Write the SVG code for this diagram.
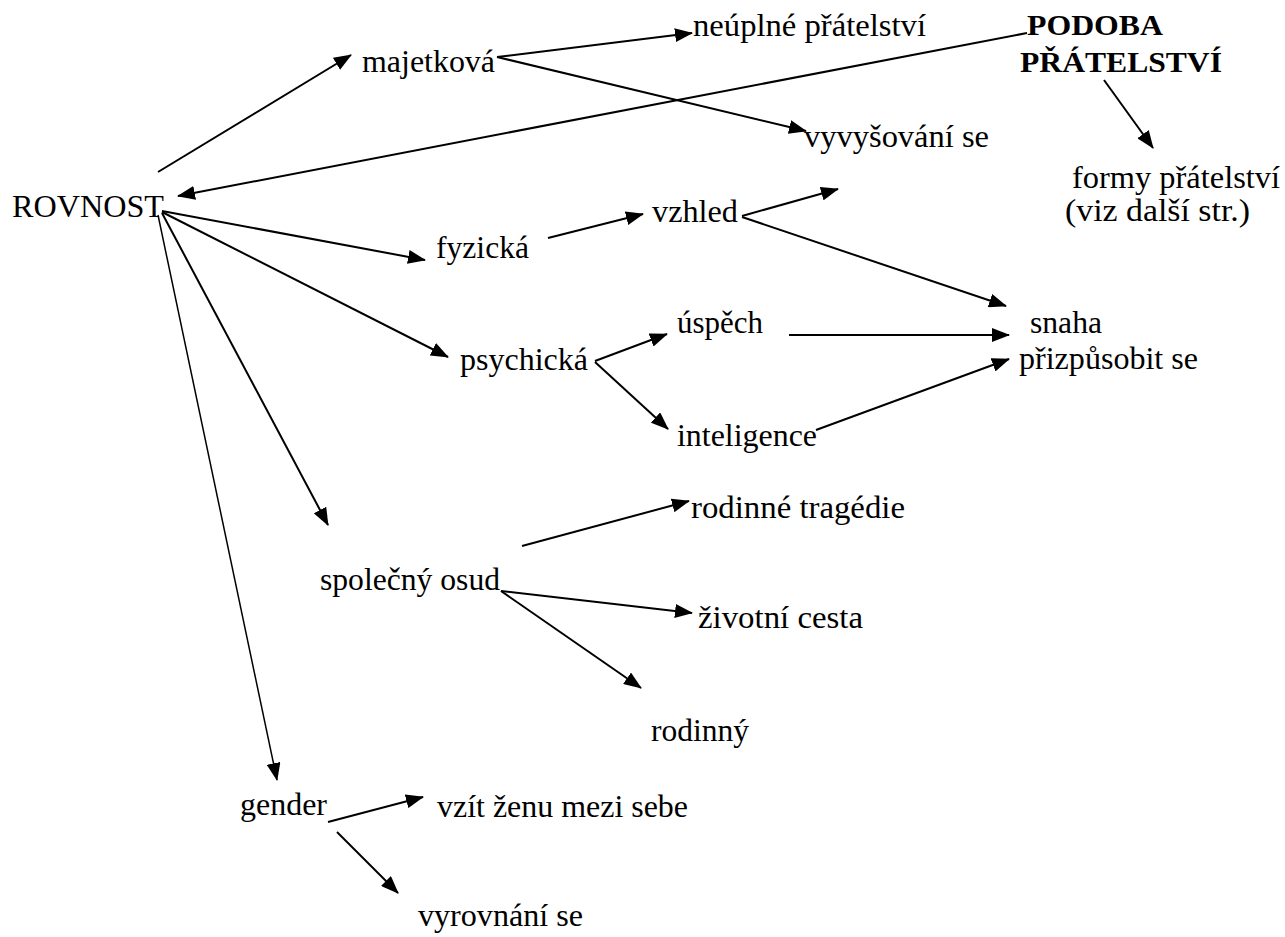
<svg xmlns="http://www.w3.org/2000/svg" width="1285" height="937" viewBox="0 0 1285 937">
<style>
text{font-family:"Liberation Serif","Times New Roman",serif;font-size:32px;fill:#000}
.b{font-weight:bold;font-size:30px}
.c line{stroke:#000;stroke-width:2;marker-end:url(#ah)}
</style>
<defs>
<marker id="ah" markerUnits="userSpaceOnUse" markerWidth="18" markerHeight="14" refX="17" refY="7" orient="auto">
<path d="M0,0 L18,7 L0,14 z" fill="#000"/>
</marker>
</defs>
<rect width="1285" height="937" fill="#fff"/>
<g id="connectors" class="c">
<line x1="158" y1="172" x2="351" y2="55"/>
<line x1="1027" y1="33" x2="178" y2="196"/>
<line x1="162" y1="211" x2="425" y2="260"/>
<line x1="162" y1="212" x2="448" y2="357"/>
<line x1="162" y1="213" x2="328" y2="525"/>
<line x1="158" y1="215" x2="277" y2="780" style="stroke-width:1.5"/>
<line x1="497" y1="57" x2="692" y2="33"/>
<line x1="497" y1="57" x2="806" y2="131"/>
<line x1="1104" y1="80" x2="1153" y2="148"/>
<line x1="548" y1="238" x2="643" y2="214"/>
<line x1="742" y1="216" x2="838" y2="189"/>
<line x1="742" y1="217" x2="1006" y2="306"/>
<line x1="789" y1="335" x2="1009" y2="335"/>
<line x1="816" y1="430" x2="1009" y2="359"/>
<line x1="595" y1="361" x2="667" y2="334"/>
<line x1="595" y1="362" x2="668" y2="429"/>
<line x1="522" y1="546" x2="689" y2="501"/>
<line x1="501" y1="591" x2="692" y2="613"/>
<line x1="501" y1="591" x2="641" y2="688"/>
<line x1="328" y1="822" x2="423" y2="797"/>
<line x1="337" y1="832" x2="398" y2="893"/>
</g>
<g id="rovnost"><text x="12" y="217" textLength="152" lengthAdjust="spacingAndGlyphs">ROVNOST</text></g>
<g id="majetkova"><text x="362" y="72" textLength="133" lengthAdjust="spacingAndGlyphs">majetková</text></g>
<g id="neuplne"><text x="693" y="36" textLength="233" lengthAdjust="spacingAndGlyphs">neúplné přátelství</text></g>
<g id="podoba"><text class="b" x="1027" y="35" textLength="136" lengthAdjust="spacingAndGlyphs">PODOBA</text><text class="b" x="1020" y="72" textLength="202" lengthAdjust="spacingAndGlyphs">PŘÁTELSTVÍ</text></g>
<g id="vyvysovani"><text x="804" y="147" textLength="185" lengthAdjust="spacingAndGlyphs">vyvyšování se</text></g>
<g id="formy"><text x="1072" y="188" textLength="208" lengthAdjust="spacingAndGlyphs">formy přátelství</text><text x="1065" y="221" textLength="185" lengthAdjust="spacingAndGlyphs">(viz další str.)</text></g>
<g id="fyzicka"><text x="436" y="258" textLength="93" lengthAdjust="spacingAndGlyphs">fyzická</text></g>
<g id="vzhled"><text x="652" y="222" textLength="86" lengthAdjust="spacingAndGlyphs">vzhled</text></g>
<g id="snaha"><text x="1030" y="333" textLength="72" lengthAdjust="spacingAndGlyphs">snaha</text><text x="1019" y="369" textLength="179" lengthAdjust="spacingAndGlyphs">přizpůsobit se</text></g>
<g id="uspech"><text x="677" y="333" textLength="86" lengthAdjust="spacingAndGlyphs">úspěch</text></g>
<g id="psychicka"><text x="460" y="370" textLength="128" lengthAdjust="spacingAndGlyphs">psychická</text></g>
<g id="inteligence"><text x="677" y="446" textLength="140" lengthAdjust="spacingAndGlyphs">inteligence</text></g>
<g id="tragedie"><text x="691" y="518" textLength="214" lengthAdjust="spacingAndGlyphs">rodinné tragédie</text></g>
<g id="osud"><text x="320" y="590" textLength="180" lengthAdjust="spacingAndGlyphs">společný osud</text></g>
<g id="cesta"><text x="698" y="628" textLength="165" lengthAdjust="spacingAndGlyphs">životní cesta</text></g>
<g id="rodinny"><text x="651" y="741" textLength="98" lengthAdjust="spacingAndGlyphs">rodinný</text></g>
<g id="gender"><text x="240" y="815" textLength="87" lengthAdjust="spacingAndGlyphs">gender</text></g>
<g id="vzit"><text x="437" y="817" textLength="251" lengthAdjust="spacingAndGlyphs">vzít ženu mezi sebe</text></g>
<g id="vyrovnani"><text x="418" y="926" textLength="165" lengthAdjust="spacingAndGlyphs">vyrovnání se</text></g>
</svg>
